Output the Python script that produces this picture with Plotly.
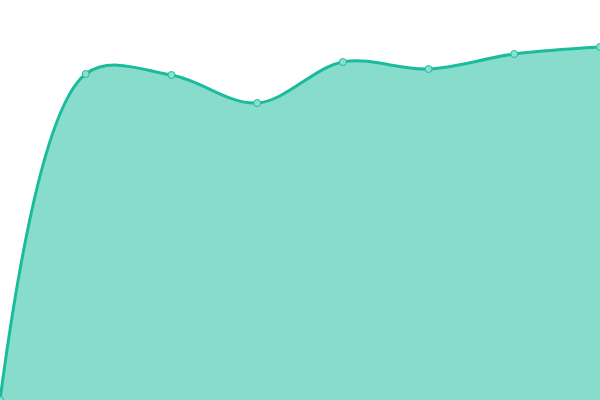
import plotly.graph_objects as go

x_vals = [0, 1, 2, 3, 4, 5, 6, 7]
y_vals = [0, 326, 325, 297, 338, 331, 346, 353]

fig = go.Figure()
fig.add_trace(go.Scatter(
    x=x_vals, y=y_vals,
    mode='lines+markers',
    fill='tozeroy',
    fillcolor='rgba(26,188,156,0.52)',
    line=dict(color='#1abc9c', width=3, shape='spline', smoothing=1),
    marker=dict(size=7, color='#8be0cf', line=dict(color='#1abc9c', width=1)),
))
fig.update_layout(
    width=600, height=400,
    margin=dict(l=0, r=0, t=0, b=0),
    paper_bgcolor='white', plot_bgcolor='white',
    showlegend=False,
    xaxis=dict(visible=False, range=[0, 7], fixedrange=True),
    yaxis=dict(visible=False, range=[0, 400], fixedrange=True),
)
# page body has a default 8px margin, drop it so the chart sits at the corner
fig.write_html("out.html", config={'displayModeBar': False},
               post_script="document.body.style.margin='0';")
